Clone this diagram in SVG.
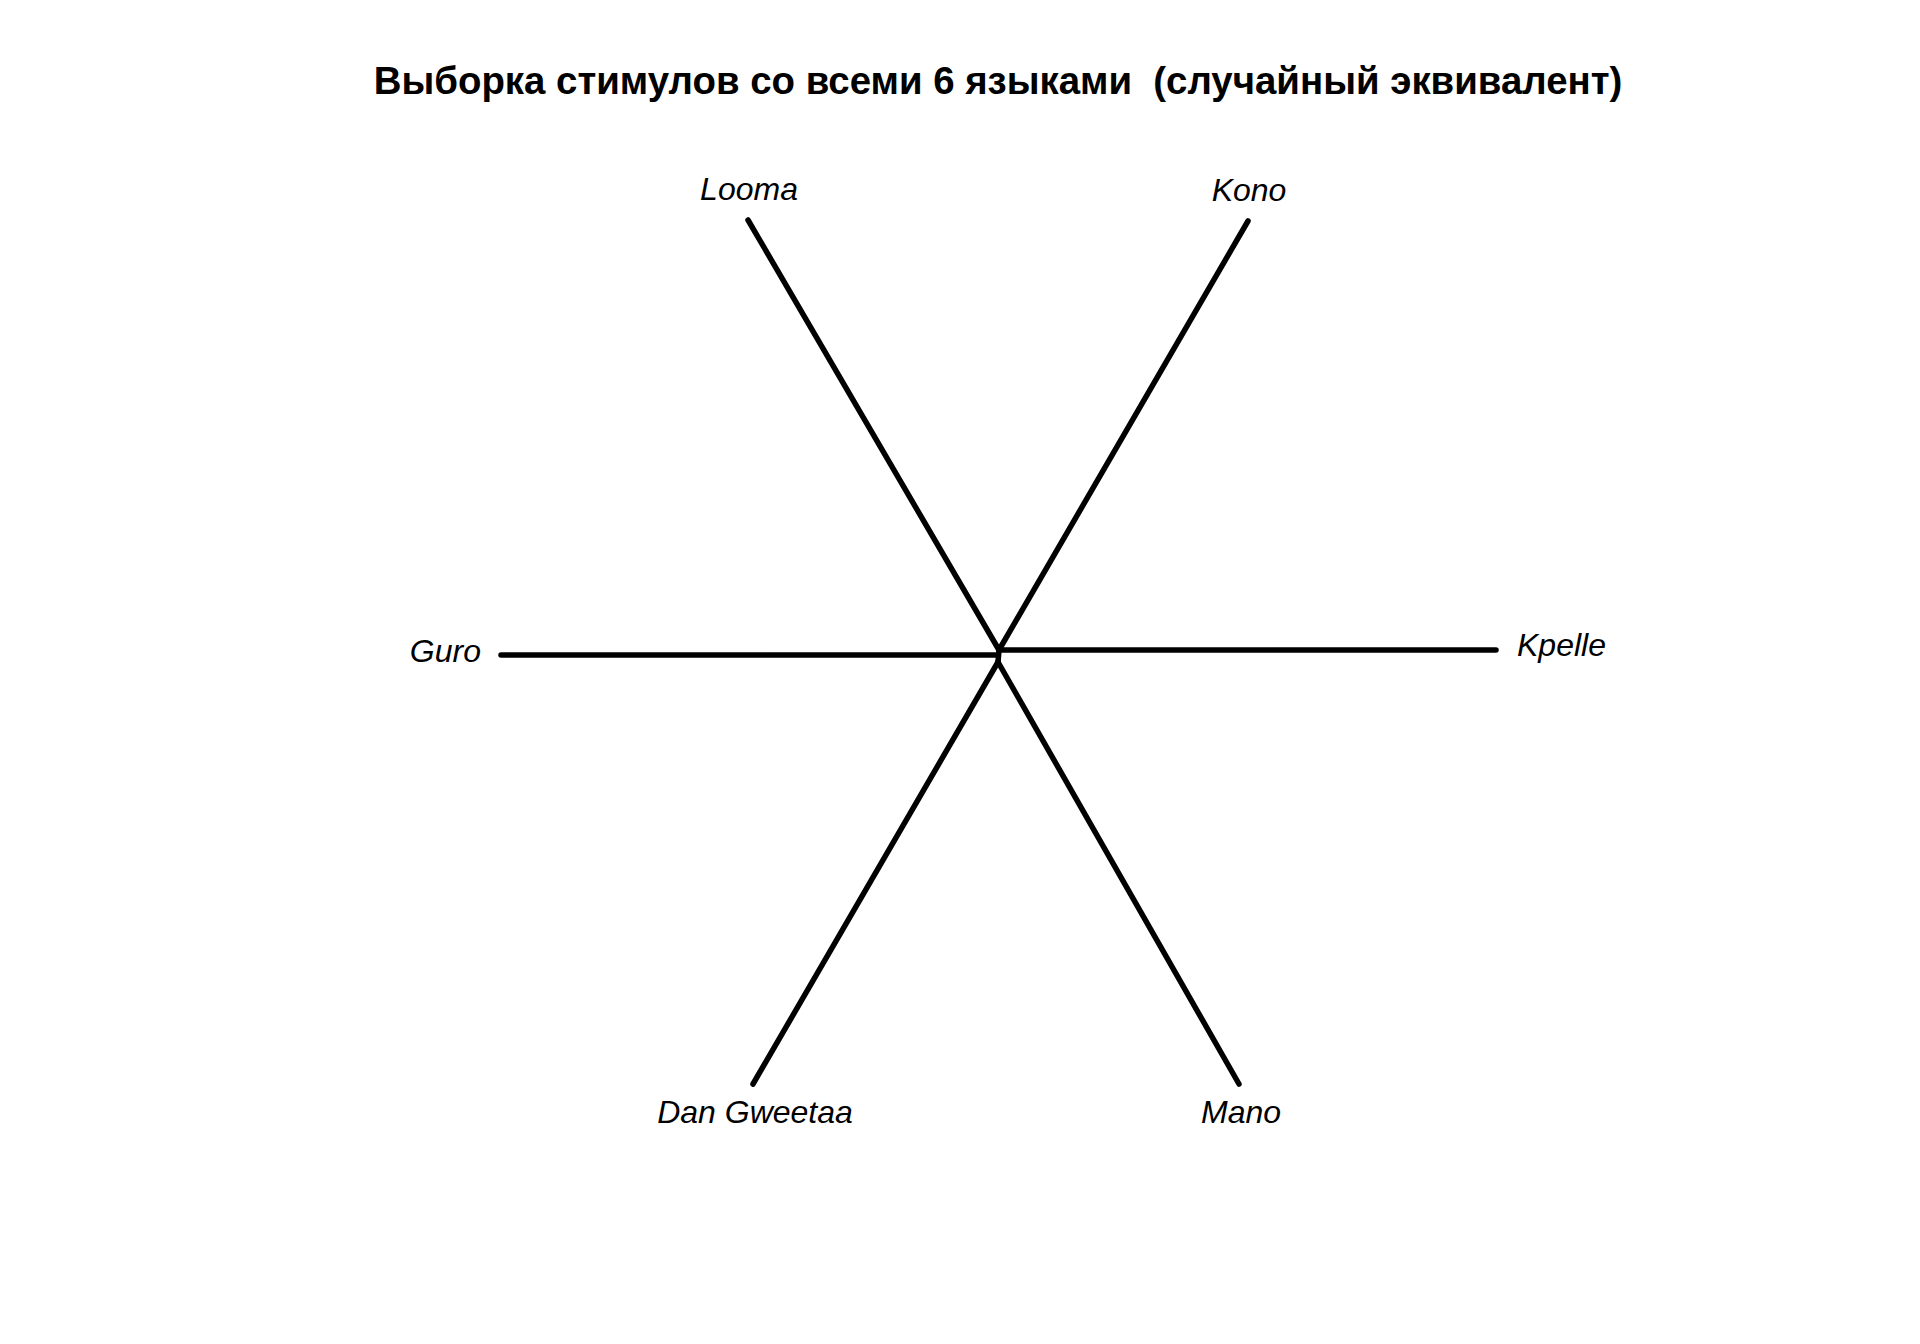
<svg xmlns="http://www.w3.org/2000/svg" width="1920" height="1344" viewBox="0 0 1920 1344">
<style>
.title{font-family:"Liberation Sans",Arial,sans-serif;font-weight:bold;font-size:38.4px;fill:#000;white-space:pre}
.lbl{font-family:"Liberation Sans",Arial,sans-serif;font-style:italic;font-size:32px;fill:#000}
.edge{stroke:#000;stroke-width:5.5;stroke-linecap:round;fill:none}
</style>
<rect width="1920" height="1344" fill="#fff"/>
<text class="title" x="998" y="94" text-anchor="middle" xml:space="preserve">Выборка стимулов со всеми 6 языками  (случайный эквивалент)</text>
<g id="connectors">
<line class="edge" x1="748" y1="220" x2="999" y2="650"/>
<line class="edge" x1="1248" y1="221" x2="999" y2="650"/>
<line class="edge" x1="999" y1="650" x2="1496" y2="650"/>
<line class="edge" x1="501" y1="655" x2="998" y2="655"/>
<line class="edge" x1="999" y1="650" x2="998" y2="662"/>
<line class="edge" x1="998" y1="662" x2="753" y2="1084"/>
<line class="edge" x1="998" y1="662" x2="1239" y2="1084"/>
</g>
<g id="node-looma"><text class="lbl" x="749" y="200" text-anchor="middle">Looma</text></g>
<g id="node-kono"><text class="lbl" x="1249" y="201" text-anchor="middle">Kono</text></g>
<g id="node-guro"><text class="lbl" x="481" y="662" text-anchor="end">Guro</text></g>
<g id="node-kpelle"><text class="lbl" x="1517" y="656">Kpelle</text></g>
<g id="node-dan"><text class="lbl" x="755" y="1123" text-anchor="middle">Dan Gweetaa</text></g>
<g id="node-mano"><text class="lbl" x="1241" y="1123" text-anchor="middle">Mano</text></g>
</svg>
